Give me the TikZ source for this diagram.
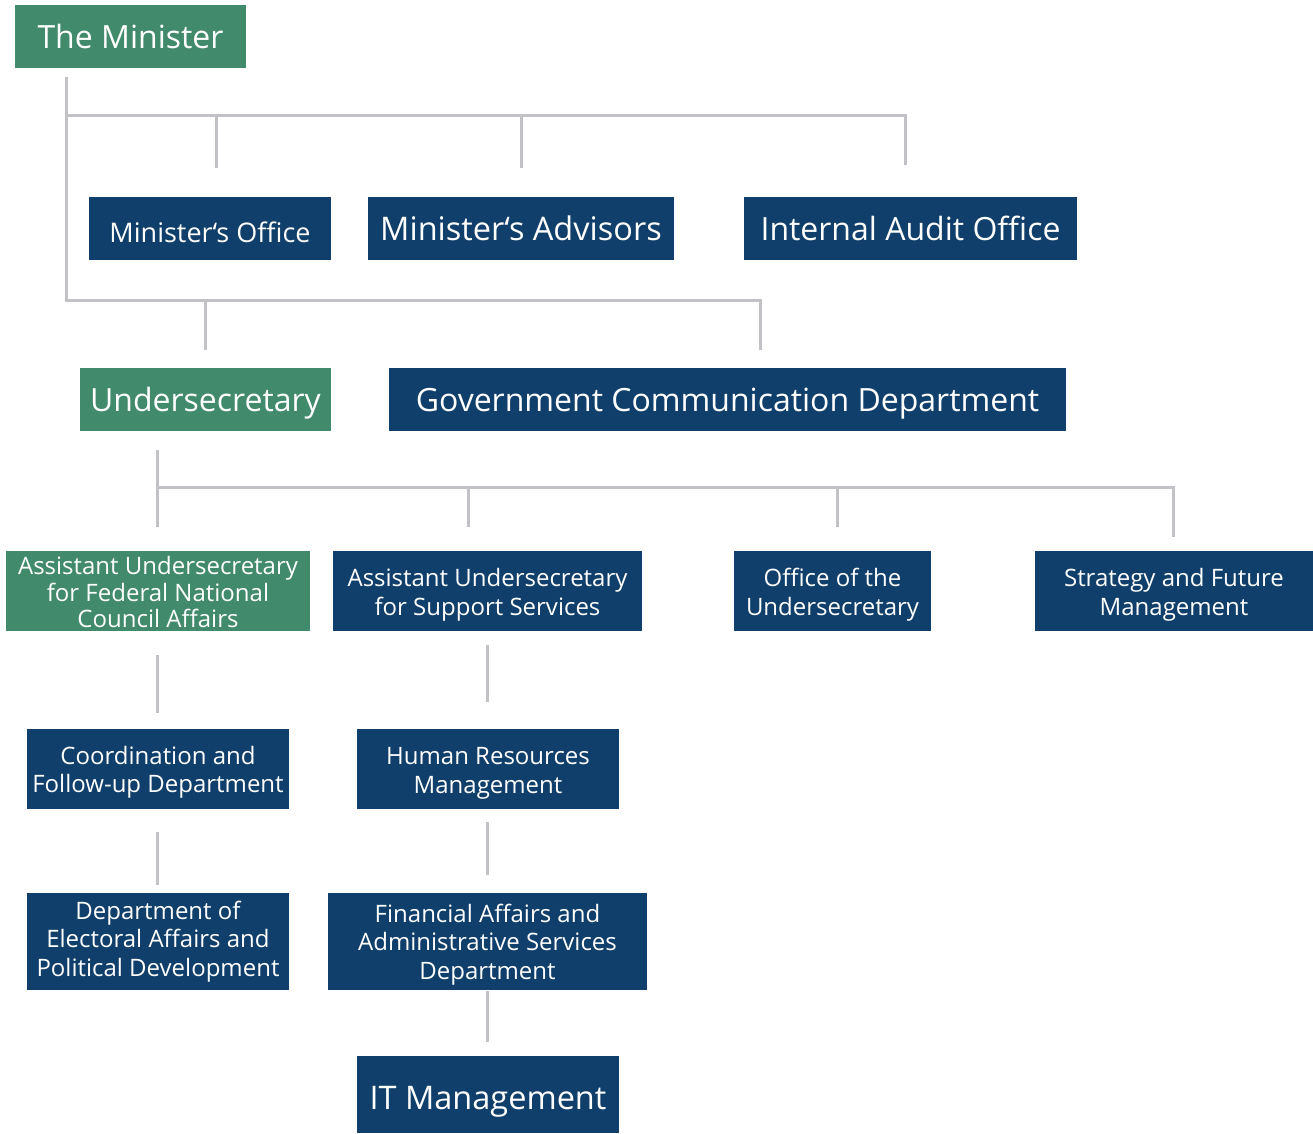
\documentclass[tikz,border=0pt]{standalone}
\usepackage{fontspec}
\setmainfont{Open Sans}
\definecolor{orggreen}{HTML}{418A6C}
\definecolor{orgnavy}{HTML}{0F3F6A}
\definecolor{orgline}{HTML}{C2C2C6}
\newcommand\lowr[1]{\rule{0pt}{#1pt}}
\begin{document}
\begin{tikzpicture}[x=1pt,y=-1pt,
  box/.style={rectangle, inner sep=0pt, text=white, align=center, fill=orgnavy},
  gbox/.style={box, fill=orggreen},
  small/.style={font=\fontsize{24}{28.5}\selectfont},
  link/.style={draw=orgline, line width=3pt}]
\useasboundingbox (0,0) rectangle (1313,1133);
% top level
\node[gbox, minimum width=231pt, minimum height=63pt, font=\fontsize{32}{36}\selectfont] (minister) at (130.5,36.5) {The Minister};
\node[box, text height=28.5pt, text depth=0pt, minimum width=242pt, minimum height=63pt, font=\fontsize{27}{30}\selectfont] (moffice) at (210,228.5) {Minister‘s Office};
\node[box, minimum width=306pt, minimum height=63pt, font=\fontsize{32.5}{36}\selectfont] (madv) at (521,228.5) {Minister‘s Advisors};
\node[box, minimum width=333pt, minimum height=63pt, font=\fontsize{32}{36}\selectfont] (audit) at (910.5,228.5) {Internal Audit Office};
\node[gbox, text depth=0pt, minimum width=251pt, minimum height=63pt, font=\fontsize{32}{36}\selectfont] (under) at (205.5,399.5) {Undersecretary};
\node[box, text depth=0pt, minimum width=677pt, minimum height=63pt, font=\fontsize{32}{36}\selectfont] (gcd) at (727.5,399.5) {Government Communication Department};
% third level
\node[gbox, minimum width=304pt, minimum height=80pt, font=\fontsize{24}{26.5}\selectfont] (afnc) at (158,591) {\lowr{21.2}Assistant Undersecretary\\for Federal National\\Council Affairs};
\node[box, small, minimum width=309pt, minimum height=80pt] (ass) at (487.5,591) {\lowr{26.2}Assistant Undersecretary\\for Support Services};
\node[box, small, minimum width=197pt, minimum height=80pt] (ous) at (832.5,591) {\lowr{26.2}Office of the\\Undersecretary};
\node[box, small, minimum width=278pt, minimum height=80pt] (sfm) at (1174,591) {\lowr{26.2}Strategy and Future\\Management};
% lower
\node[box, small, minimum width=262pt, minimum height=80pt] (coord) at (158,769) {\lowr{25.2}Coordination and\\Follow-up Department};
\node[box, small, minimum width=262pt, minimum height=80pt] (hr) at (488,769) {\lowr{26.2}Human Resources\\Management};
\node[box, small, minimum width=262pt, minimum height=97pt] (dea) at (158,941.5) {Department of\\Electoral Affairs and\\Political Development};
\node[box, small, minimum width=319pt, minimum height=97pt] (fin) at (487.5,941.5) {\lowr{24.2}Financial Affairs and\\Administrative Services\\Department};
\node[box, text height=30.5pt, text depth=0pt, minimum width=262pt, minimum height=77pt, font=\fontsize{32.5}{36}\selectfont] (it) at (488,1094.5) {IT Management};
% junction coordinates
\coordinate (mtop) at (66,77);
\coordinate (mbus) at (66,115);
\coordinate (mbot) at (66,300);
\coordinate (ubus) at (157,487);
\coordinate (utop) at (157,450);
% minister tree
\draw[link] (mtop) -- (mbot) -- (760,300) -- (760,350);
\draw[link] (mbus) -- (905,115) -- (905,165);
\draw[link] (216,115) -- (216,168);
\draw[link] (521,115) -- (521,168);
\draw[link] (205,300) -- (205,350);
% undersecretary tree
\draw[link] (utop) -- (157,527);
\draw[link] (ubus) -- (1173,487) -- (1173,537);
\draw[link] (468,487) -- (468,527);
\draw[link] (837,487) -- (837,527);
% vertical chains
\draw[link] (157,655) -- (157,713);
\draw[link] (157,832) -- (157,885);
\draw[link] (487,645) -- (487,702);
\draw[link] (487,822) -- (487,875);
\draw[link] (487,991) -- (487,1042);
\end{tikzpicture}
\end{document}
